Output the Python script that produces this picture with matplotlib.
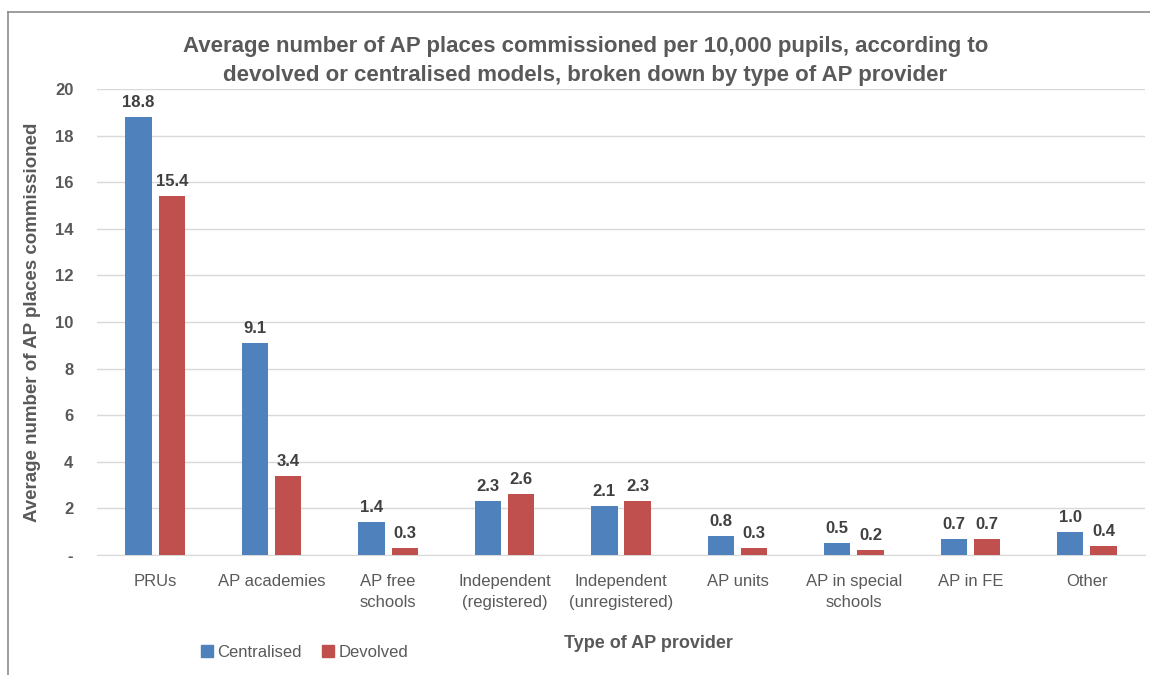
import matplotlib
matplotlib.use("Agg")
import matplotlib.pyplot as plt
import numpy as np
from matplotlib.lines import Line2D
from matplotlib.patches import Patch

plt.rcParams['font.family'] = ['Liberation Sans', 'DejaVu Sans']

categories = ["PRUs", "AP academies", "AP free\nschools", "Independent\n(registered)",
              "Independent\n(unregistered)", "AP units", "AP in special\nschools", "AP in FE", "Other"]
centralised = [18.8, 9.1, 1.4, 2.3, 2.1, 0.8, 0.5, 0.7, 1.0]
devolved = [15.4, 3.4, 0.3, 2.6, 2.3, 0.3, 0.2, 0.7, 0.4]
series_names = ["Centralised", "Devolved"]
yticks = [0, 2, 4, 6, 8, 10, 12, 14, 16, 18, 20]
ytick_labels = ["-", "2", "4", "6", "8", "10", "12", "14", "16", "18", "20"]

blue = "#4F81BD"
red = "#C0504D"
txt = "#595959"

fig = plt.figure(figsize=(11.5, 6.75), dpi=100)
ax = fig.add_axes([0.0843, 0.1778, 0.9114, 0.6902])

x = np.arange(len(categories))
w = 0.225
gap = 0.03
b1 = ax.bar(x - w/2 - gap, centralised, w, color=blue, zorder=3)
b2 = ax.bar(x + w/2 + gap, devolved, w, color=red, zorder=3)

for bars, vals in ((b1, centralised), (b2, devolved)):
    for r, v in zip(bars, vals):
        ax.annotate(f"{v:.1f}", (r.get_x() + r.get_width()/2, v), xytext=(0, 5),
                    textcoords="offset points", ha="center", va="bottom",
                    fontsize=12, fontweight="bold", color="#404040")

ax.set_xlim(-0.5, len(categories) - 0.5)
ax.set_ylim(0, 20)
ax.set_yticks(yticks)
ax.set_yticklabels(ytick_labels, fontsize=12, fontweight="bold", color=txt)
ax.set_xticks(x)
ax.set_xticklabels(categories, fontsize=12, color=txt, linespacing=1.5)
ax.tick_params(axis="both", length=0)
ax.tick_params(axis="x", pad=14)
ax.tick_params(axis="y", pad=17)
ax.grid(axis="y", color="#D9D9D9", linewidth=1, zorder=0)
for s in ["top", "right", "left"]:
    ax.spines[s].set_visible(False)
ax.spines["bottom"].set_color("#D9D9D9")

ax.set_ylabel("Average number of AP places commissioned", fontsize=13.5,
              fontweight="bold", color=txt)
ax.yaxis.set_label_coords(-0.053, 0.5)

fig.text(0.509, 0.872, "Average number of AP places commissioned per 10,000 pupils, according to\n"
         "devolved or centralised models, broken down by type of AP provider",
         ha="center", va="bottom", fontsize=16, fontweight="bold", color=txt, linespacing=1.55)

fig.text(0.564, 0.047, "Type of AP provider", ha="center", va="center",
         fontsize=13, fontweight="bold", color=txt)

handles = [Patch(color=blue), Patch(color=red)]
fig.legend(handles, series_names, loc="center", bbox_to_anchor=(0.265, 0.034), ncol=2,
           frameon=False, fontsize=12, handlelength=0.7, handleheight=0.7,
           handletextpad=0.3, columnspacing=1.2, labelcolor=txt)

# chart border (partial, as in cropped screenshot)
fig.add_artist(Line2D([0.007, 0.007], [0.0, 0.982], color="#8C8C8C", lw=1.2,
                      transform=fig.transFigure))
fig.add_artist(Line2D([0.007, 1.0], [0.982, 0.982], color="#8C8C8C", lw=1.2,
                      transform=fig.transFigure))

fig.savefig("out.png", dpi=100)
